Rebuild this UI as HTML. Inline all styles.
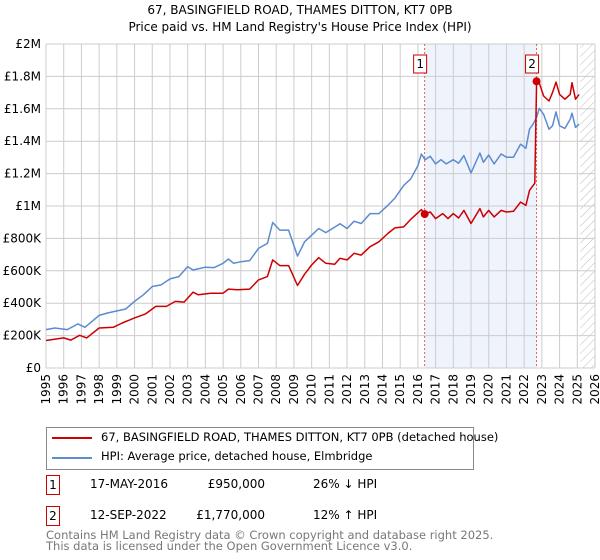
<!DOCTYPE html>
<html><head><meta charset="utf-8"><style>
body{margin:0;background:#fff;font-family:"DejaVu Sans","Liberation Sans",sans-serif;}
#wrap{position:relative;width:600px;height:560px;overflow:hidden}
.t{position:absolute;font-size:12px;color:#000;white-space:nowrap}
.box{position:absolute;border:1px solid #c00;width:12px;height:18px;text-align:center;font-size:12px;line-height:18px}
</style></head><body><div id="wrap">
<div class="t" style="left:0;width:600px;text-align:center;top:3px;font-size:12px">67, BASINGFIELD ROAD, THAMES DITTON, KT7 0PB</div>
<div class="t" style="left:0;width:600px;text-align:center;top:20px;font-size:12px">Price paid vs. HM Land Registry's House Price Index (HPI)</div>
<svg id="plot" width="600" height="420" style="position:absolute;left:0;top:0;font-family:'DejaVu Sans',sans-serif">
<defs><pattern id="hatch" width="6" height="6" patternUnits="userSpaceOnUse" patternTransform="rotate(45)"><line x1="0" y1="0" x2="0" y2="6" stroke="#bbb" stroke-width="1"/></pattern></defs>
</svg>
<div style="position:absolute;left:46px;top:427px;width:426px;height:41px;border:1px solid #888">
<div style="position:absolute;left:5px;top:9px;width:40px;height:2px;background:#c00"></div>
<div class="t" style="left:54px;top:2px;font-size:11.5px">67, BASINGFIELD ROAD, THAMES DITTON, KT7 0PB (detached house)</div>
<div style="position:absolute;left:5px;top:29px;width:40px;height:2px;background:#5b8bd0"></div>
<div class="t" style="left:54px;top:21px;font-size:11.5px">HPI: Average price, detached house, Elmbridge</div>
</div>
<div class="box" style="left:46px;top:475px">1</div>
<div class="t" style="left:90px;top:477px">17-MAY-2016</div>
<div class="t" style="left:190px;top:477px;width:75px;text-align:right">£950,000</div>
<div class="t" style="left:313px;top:477px">26% ↓ HPI</div>
<div class="box" style="left:46px;top:506px">2</div>
<div class="t" style="left:90px;top:508px">12-SEP-2022</div>
<div class="t" style="left:190px;top:508px;width:75px;text-align:right">£1,770,000</div>
<div class="t" style="left:313px;top:508px">12% ↑ HPI</div>
<div class="t" style="left:46px;top:530px;color:#777;line-height:11px;font-size:11.5px">Contains HM Land Registry data © Crown copyright and database right 2025.<br>This data is licensed under the Open Government Licence v3.0.</div>
</div>
<script>
const yTicks=[0,200000,400000,600000,800000,1000000,1200000,1400000,1600000,1800000,2000000];
const yTickLabels=["£0","£200K","£400K","£600K","£800K","£1M","£1.2M","£1.4M","£1.6M","£1.8M","£2M"];
const years=[1995,1996,1997,1998,1999,2000,2001,2002,2003,2004,2005,2006,2007,2008,2009,2010,2011,2012,2013,2014,2015,2016,2017,2018,2019,2020,2021,2022,2023,2024,2025,2026];
const hpiT=[1995,1995.5,1996.2,1996.8,1997.2,1998,1998.5,1999.5,2000,2000.5,2001,2001.5,2002,2002.5,2003,2003.3,2004,2004.5,2005,2005.3,2005.6,2006,2006.5,2007,2007.5,2007.8,2008.2,2008.7,2009.2,2009.6,2010,2010.4,2010.8,2011.3,2011.6,2012,2012.4,2012.8,2013.3,2013.8,2014.3,2014.7,2015.2,2015.6,2016,2016.2,2016.4,2016.7,2017,2017.3,2017.6,2018,2018.3,2018.6,2019,2019.5,2019.7,2020,2020.3,2020.7,2021,2021.4,2021.8,2022.1,2022.3,2022.5,2022.7,2022.85,2023.1,2023.4,2023.6,2023.8,2024.0,2024.3,2024.6,2024.7,2024.9,2025.1];
const hpiV=[237,247,237,272,251,325,340,364,411,452,503,513,550,564,626,605,622,620,646,673,646,656,663,738,769,898,851,851,691,779,820,861,836,870,890,861,906,892,953,953,1004,1049,1127,1168,1249,1321,1286,1307,1260,1286,1260,1286,1264,1311,1204,1327,1270,1315,1260,1321,1301,1301,1382,1356,1474,1505,1546,1603,1566,1474,1495,1581,1495,1479,1536,1573,1485,1505];
const ppT=[1995,1996,1996.4,1996.9,1997.3,1998,1998.8,1999.3,2000,2000.6,2001.2,2001.8,2002.3,2002.8,2003.3,2003.6,2004.3,2005,2005.3,2005.8,2006.5,2007,2007.5,2007.8,2008.2,2008.7,2009.2,2009.6,2010,2010.4,2010.8,2011.3,2011.6,2012,2012.4,2012.8,2013.3,2013.8,2014.3,2014.7,2015.2,2015.6,2016.2,2016.38,2016.7,2017,2017.4,2017.7,2018,2018.3,2018.6,2019,2019.5,2019.7,2020,2020.3,2020.7,2021,2021.4,2021.8,2022.1,2022.3,2022.6,2022.7,2022.85,2023.1,2023.4,2023.6,2023.8,2024.0,2024.3,2024.6,2024.7,2024.9,2025.1];
const ppV=[170,186,172,202,186,247,251,278,309,333,380,380,411,407,468,452,462,462,487,483,487,544,564,667,632,632,509,579,636,681,646,640,677,667,708,697,749,779,830,865,871,918,978,950,963,922,953,922,953,926,973,892,984,933,973,933,973,963,967,1024,1004,1096,1141,1771,1761,1679,1648,1700,1765,1689,1659,1689,1761,1659,1689];
const saleT=[2016.38,2022.7];
const saleV=[950,1770];
const saleLabels=["1","2"];
const X0=46,X1=595,Y0=368,Y1=44;
const xs=t=>X0+(t-1995)/(2026-1995)*(X1-X0);
const ys=v=>Y0-v/2000000*(Y0-Y1);
const svg=document.getElementById('plot');const NS="http://www.w3.org/2000/svg";
function mk(tag,at,parent){const e=document.createElementNS(NS,tag);for(const k in at)e.setAttribute(k,at[k]);(parent||svg).appendChild(e);return e;}
let r=mk('rect',{x:xs(saleT[0]),y:Y1,width:xs(saleT[1])-xs(saleT[0]),height:Y0-Y1,fill:'#eef3fc'});


let h=mk('rect',{x:xs(2025.17),y:Y1,width:X1-xs(2025.17),height:Y0-Y1,fill:'url(#hatch)'});


years.forEach(y=>{
 let l=mk('line',{x1:xs(y),x2:xs(y),y1:Y1,y2:Y0,stroke:'#ccc','stroke-width':1});
 
 
 let t=mk('text',{x:0,y:0,transform:`translate(${xs(y)+4},${Y0+6}) rotate(-90)`,'text-anchor':'end','font-size':12,fill:'#000'});
 t.textContent=y;
 
 
});
yTicks.forEach((v,i)=>{
 let l=mk('line',{x1:X0,x2:X1,y1:ys(v),y2:ys(v),stroke:'#ccc','stroke-width':1});
 
 
 let t=mk('text',{x:X0-5,y:ys(v)+4,'text-anchor':'end','font-size':12,fill:'#000'});
 t.textContent=yTickLabels[i];
 
 
});
saleT.forEach((t,i)=>{
 let l=mk('line',{x1:xs(t),x2:xs(t),y1:Y1,y2:Y0,stroke:'#e06060','stroke-width':1,'stroke-dasharray':'2,2'});
 
 
});
function path(T,V,col,name){
 const d=T.map((t,i)=>(i?'L':'M')+xs(t).toFixed(1)+','+ys(V[i]*1000).toFixed(1)).join('');
 let p=mk('path',{d:d,fill:'none',stroke:col,'stroke-width':1.5,'stroke-linejoin':'round'});
 
 
}
path(hpiT,hpiV,'#5b8bd0','hpi-line');
path(ppT,ppV,'#cc0000','price-paid-line');
saleT.forEach((t,i)=>{
 let c=mk('circle',{cx:xs(t),cy:ys(saleV[i]*1000),r:4,fill:'#cc0000'});
 
 
 let b=mk('rect',{x:xs(t)-11,y:55,width:13,height:18,fill:'#fff',stroke:'#cc0000'});
 
 
 let tx=mk('text',{x:xs(t)-4.5,y:68,'text-anchor':'middle','font-size':12});
 tx.textContent=saleLabels[i];
 
 
});
</script></body></html>
